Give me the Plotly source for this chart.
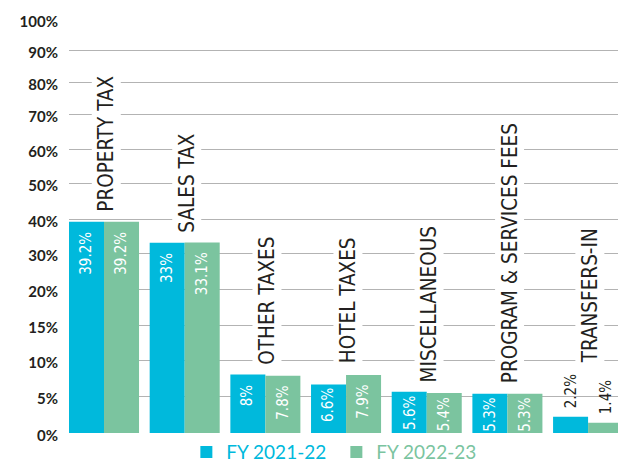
import numpy as np
import plotly.graph_objects as go

# Revenue share by source
categories = ['PROPERTY TAX', 'SALES TAX', 'OTHER TAXES', 'HOTEL TAXES',
              'MISCELLANEOUS', 'PROGRAM & SERVICES FEES', 'TRANSFERS-IN']
fy_2122 = [39.2, 33, 8, 6.6, 5.6, 5.3, 2.2]
fy_2223 = [39.2, 33.1, 7.8, 7.9, 5.4, 5.3, 1.4]
labels_2122 = ['39.2%', '33%', '8%', '6.6%', '5.6%', '5.3%', '2.2%']
labels_2223 = ['39.2%', '33.1%', '7.8%', '7.9%', '5.4%', '5.3%', '1.4%']

# The original axis is not linear: ticks are evenly spaced but values jump
tick_values = [0, 5, 10, 15, 20, 30, 40, 50, 60, 70, 80, 90, 100]
tick_text = [f'{v}%' for v in tick_values]
tick_pos = [0, 37, 73, 108, 144, 180, 214, 250, 284, 319, 351, 383, 414]


def to_axis(vals):
    return np.interp(vals, tick_values, tick_pos)


BLUE = '#00b9dc'
GREEN = '#7bc49f'
DARK = '#231f20'
NARROW = 'DejaVu Sans Condensed, Liberation Sans Narrow, sans-serif'
BARGAP = 0.132

x = list(range(len(categories)))

fig = go.Figure()
series = [(fy_2122, labels_2122, BLUE, 'FY 2021-22', -1),
          (fy_2223, labels_2223, GREEN, 'FY 2022-23', 1)]
for vals, labels, color, name, side in series:
    fig.add_trace(go.Bar(
        x=x, y=to_axis(vals), name=f"<span style='color:{color}'>{name}</span>",
        marker=dict(color=color, line=dict(width=0)),
        customdata=vals, hovertemplate='%{customdata}%<extra></extra>'
    ))
    # value labels: white inside the bars, dark above the tiny ones
    offset = side * (1 - BARGAP) / 4
    for i, (v, lab) in enumerate(zip(vals, labels)):
        inside = v >= 3
        if inside:
            shift = -8 if v >= 7 else -2
        else:
            shift = 6
        fig.add_annotation(
            x=i + offset, y=to_axis(v), text=lab, textangle=-90, showarrow=False,
            xanchor='center', yanchor='top' if inside else 'bottom', yshift=shift,
            font=dict(family=NARROW, size=15, color='white' if inside else DARK)
        )

# Category labels sit above the taller bar of each pair
label_shift = [7, 7, 7, 9, 6, 8, 50]
for i, cat in enumerate(categories):
    top = to_axis(max(fy_2122[i], fy_2223[i]))
    fig.add_annotation(
        x=i, y=top, text=cat, textangle=-90, showarrow=False,
        xanchor='center', yanchor='bottom', yshift=label_shift[i], xshift=2,
        font=dict(family=NARROW, size=20.5, color=DARK),
        bgcolor='white', borderpad=2
    )

# page body adds an 8px margin, so the figure is 8px smaller than the window
fig.update_layout(
    width=618, height=456,
    margin=dict(l=61, r=0, t=11, b=31, autoexpand=False),
    plot_bgcolor='white', paper_bgcolor='white',
    barmode='group', bargap=BARGAP, bargroupgap=0,
    legend=dict(
        orientation='h', x=0.48, xanchor='center',
        yref='container', y=0.026, yanchor='middle',
        bgcolor='rgba(0,0,0,0)', entrywidth=105,
        font=dict(family='Lato', size=19), itemwidth=30
    )
)
fig.update_xaxes(range=[-0.434, 6.47], showticklabels=False, showgrid=False,
                 zeroline=False, showline=False, ticks='', automargin=False)
fig.update_yaxes(range=[0, 414], tickvals=tick_pos, ticktext=tick_text,
                 showgrid=True, gridcolor='#b3b3b3', gridwidth=1,
                 zeroline=False, showline=False, ticks='', automargin=False,
                 ticklabelstandoff=10, ticklabelshift=3,
                 tickfont=dict(family='Lato', size=15, color=DARK, weight='bold'))

fig.write_html("out.html")
